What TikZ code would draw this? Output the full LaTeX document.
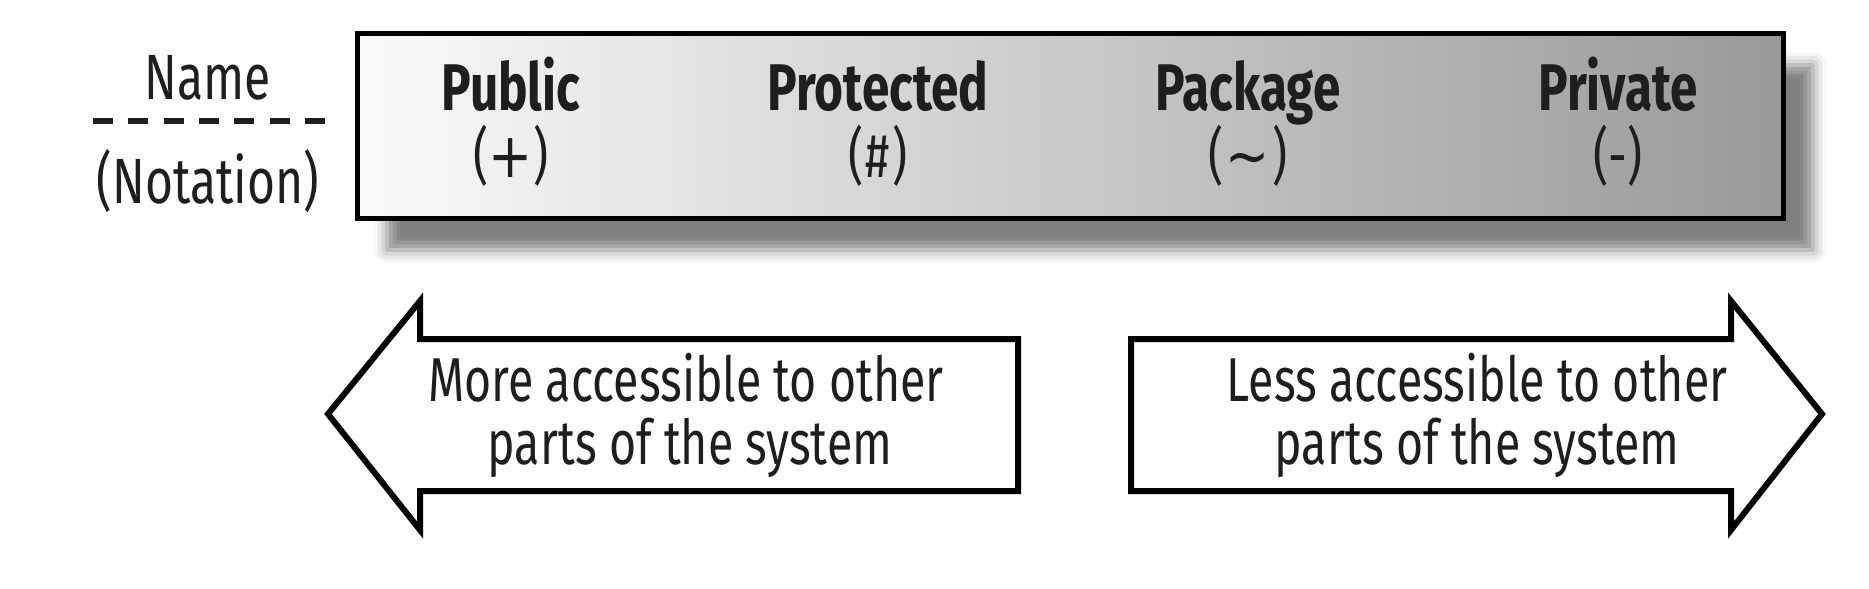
\documentclass[tikz,border=0pt]{standalone}
\usepackage{fontspec}
\setmainfont{Fira Sans}[FakeStretch=0.75]
\newfontfamily\symfont{DejaVu Sans}[FakeStretch=0.85]
\usetikzlibrary{shadows.blur}
\definecolor{ink}{HTML}{1E1E1E}
\tikzset{
  lbl/.style={anchor=base, inner sep=0pt, text=ink, font=\fontsize{62}{63}\selectfont},
  leg/.style={lbl, font=\fontsize{64}{63}\selectfont},
  blbl/.style={lbl, font=\fontsize{66}{63}\selectfont\bfseries},
  arrowshape/.style={draw=black, line width=6pt, fill=white, line join=miter},
  mainbox/.style={draw=black, line width=5pt, left color=black!2, middle color=black!17, right color=black!40,
    blur shadow={shadow xshift=30pt, shadow yshift=-32pt, shadow blur radius=13pt, shadow opacity=50}},
}
\newcommand{\symch}[1]{{\symfont #1}}
\begin{document}
\begin{tikzpicture}[x=1pt,y=-1pt]
\useasboundingbox (0,0) rectangle (1869,589);
% legend
\node[leg] (name) at (208,99) {Name};
\coordinate (dl) at (93,121);
\coordinate (dr) at (325,121);
\draw[line width=6pt, dash pattern=on 20pt off 15.3pt, draw=ink] (dl) -- (dr);
\node[leg] (notation) at (208,203) {(Notation)};
% main box
\path[mainbox] (357,33) rectangle (1783,218);
\node[blbl] (public) at (511,110) {Public};
\node[lbl] (publicn) at (511,177) {(\symch{+})};
\node[blbl] (protected) at (878,110) {Protected};
\node[lbl] (protectedn) at (878,177) {(\kern2pt\#\kern2pt)};
\node[blbl] (package) at (1248,110) {Package};
\node[lbl] (packagen) at (1248,177) {(\kern2pt\symch{\char"007E}\kern2pt)};
\node[blbl] (private) at (1618,110) {Private};
\node[lbl] (privaten) at (1618,177) {(-)};
% arrows
\path[arrowshape] (328,414) -- (420,301) -- (420,339) -- (1018,339) -- (1018,491) -- (420,491) -- (420,530) -- cycle;
\path[arrowshape] (1131,339) -- (1731,339) -- (1731,301) -- (1822,414) -- (1731,530) -- (1731,491) -- (1131,491) -- cycle;
\node[lbl] (more1) at (686,401) {More accessible to other};
\node[lbl] (more2) at (690,464) {parts of the system};
\node[lbl] (less1) at (1477,401) {Less accessible to other};
\node[lbl] (less2) at (1477,464) {parts of the system};
\end{tikzpicture}
\end{document}
